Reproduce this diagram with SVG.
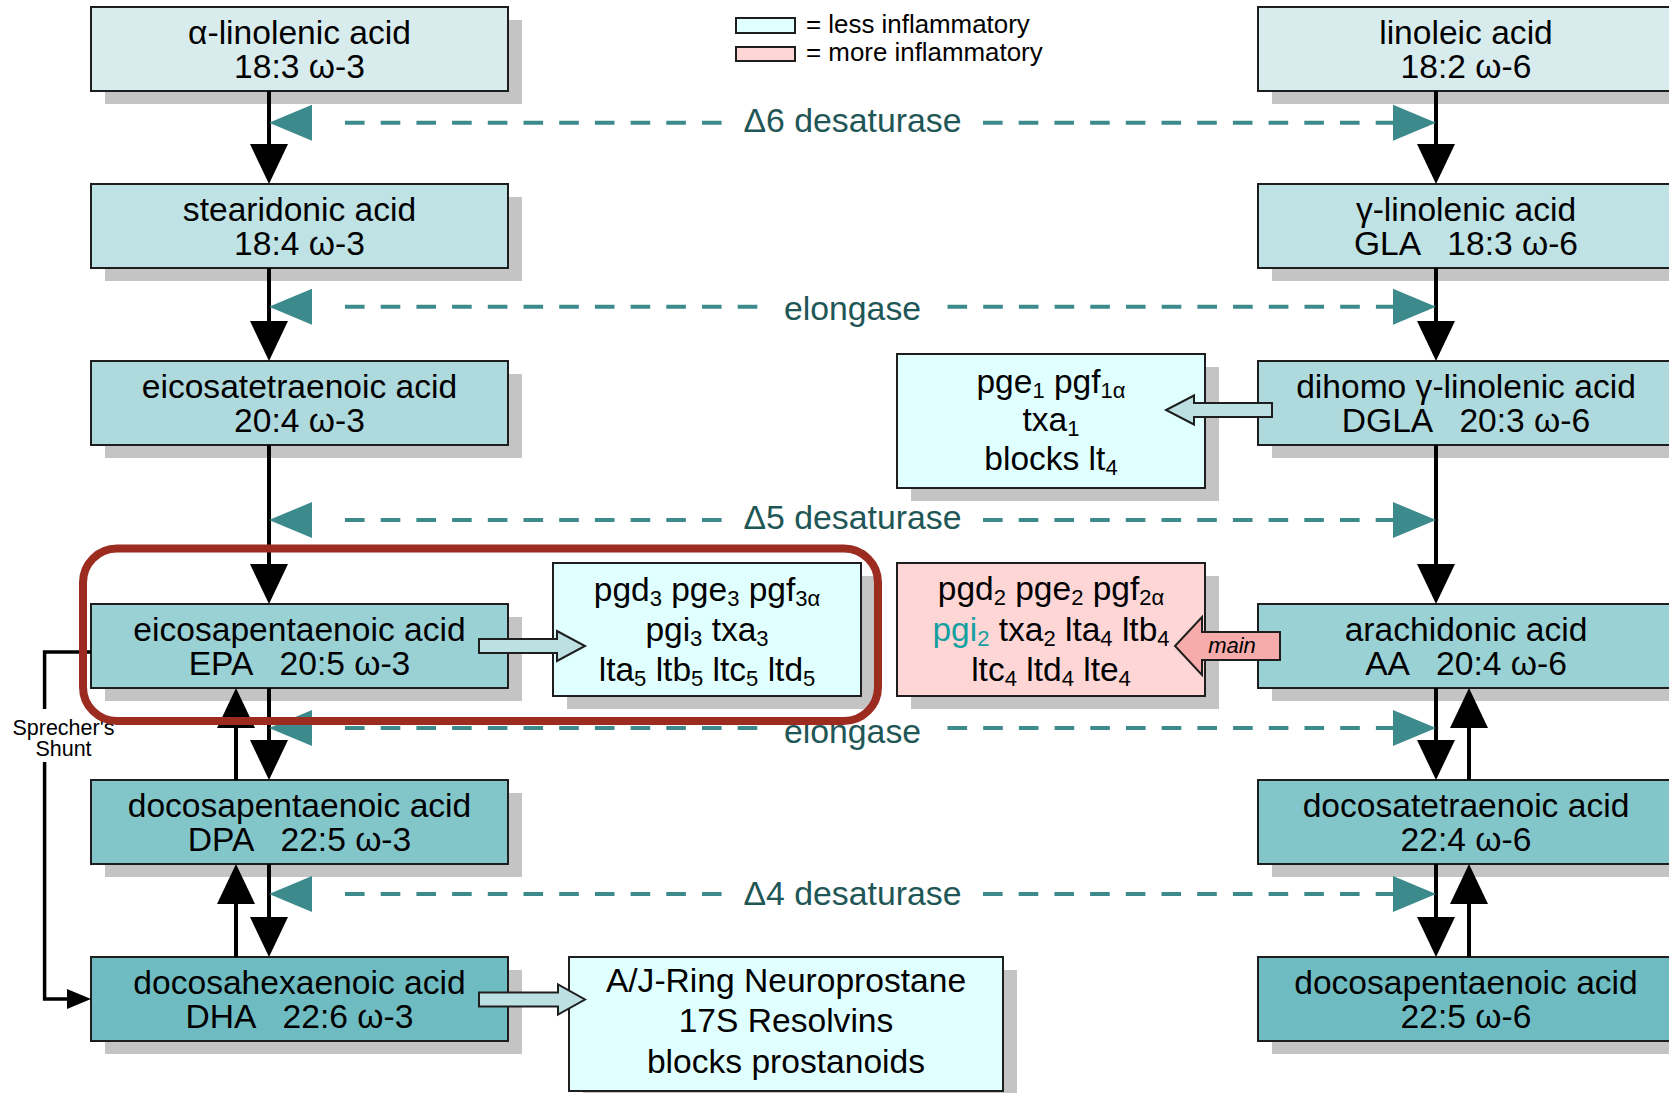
<svg xmlns="http://www.w3.org/2000/svg" width="1669" height="1093" viewBox="0 0 1669 1093">
<style>
text{font-family:"Liberation Sans",Arial,sans-serif;fill:#000}
.t{font-size:33.6px;text-anchor:middle;white-space:pre}
.p{font-size:33.5px;text-anchor:middle;white-space:pre}
.sb{font-size:22px}
.lab{font-size:33.8px;text-anchor:middle;fill:#1f5656}
.leg{font-size:25.9px}
.sh{fill:#c4c4c4}
.bx{stroke:#1e1e1e;stroke-width:2}
.r1{fill:#d9eced}.r2{fill:#bfe2e4}.r3{fill:#afdadd}.r4{fill:#99d1d5}.r5{fill:#83c6ca}.r6{fill:#6ebcc1}
.pl{fill:#e0ffff}.pr{fill:#ffd6d6}
.vl{stroke:#000;stroke-width:4;fill:none}
.dl{stroke:#3d8a8d;stroke-width:4;fill:none;stroke-dasharray:19.6 16.1}
.th{fill:#3d8a8d}
.bh{fill:#000}
.ha{fill:#bde0e3;stroke:#1e1e1e;stroke-width:2}
.ma{fill:#f8abab;stroke:#1e1e1e;stroke-width:2}
</style>
<defs>
<path id="hd" d="M0,0 L-19,-40 L19,-40 z"/>
<path id="hu" d="M0,0 L-19,40 L19,40 z"/>
<path id="tl" d="M0,0 L43,-18 L43,18 z"/>
<path id="tr" d="M0,0 L-43,-18 L-43,18 z"/>
</defs>

<g id="legend">
<rect class="bx pl" x="736" y="18" width="59" height="15"/>
<rect class="bx pr" x="736" y="47" width="59" height="14"/>
<text class="leg" x="806" y="33">= less inflammatory</text>
<text class="leg" x="806" y="61">= more inflammatory</text>
</g>

<g id="n-ala"><rect class="sh" x="105" y="20" width="417" height="84"/><rect class="bx r1" x="91" y="7" width="417" height="84"/>
<text class="t" x="299.5" y="44">α-linolenic acid</text><text class="t" x="299.5" y="78">18:3 ω-3</text></g>
<g id="n-sda"><rect class="sh" x="105" y="197" width="417" height="84"/><rect class="bx r2" x="91" y="184" width="417" height="84"/>
<text class="t" x="299.5" y="221">stearidonic acid</text><text class="t" x="299.5" y="255">18:4 ω-3</text></g>
<g id="n-eta"><rect class="sh" x="105" y="374" width="417" height="84"/><rect class="bx r3" x="91" y="361" width="417" height="84"/>
<text class="t" x="299.5" y="398">eicosatetraenoic acid</text><text class="t" x="299.5" y="432">20:4 ω-3</text></g>
<g id="n-epa"><rect class="sh" x="105" y="617" width="417" height="84"/><rect class="bx r4" x="91" y="604" width="417" height="84"/>
<text class="t" x="299.5" y="641">eicosapentaenoic acid</text><text class="t" x="299.5" y="675">EPA   20:5 ω-3</text></g>
<g id="n-dpa"><rect class="sh" x="105" y="793" width="417" height="84"/><rect class="bx r5" x="91" y="780" width="417" height="84"/>
<text class="t" x="299.5" y="817">docosapentaenoic acid</text><text class="t" x="299.5" y="851">DPA   22:5 ω-3</text></g>
<g id="n-dha"><rect class="sh" x="105" y="970" width="417" height="84"/><rect class="bx r6" x="91" y="957" width="417" height="84"/>
<text class="t" x="299.5" y="994">docosahexaenoic acid</text><text class="t" x="299.5" y="1028">DHA   22:6 ω-3</text></g>

<g id="n-la"><rect class="sh" x="1272" y="20" width="417" height="84"/><rect class="bx r1" x="1258" y="7" width="417" height="84"/>
<text class="t" x="1466" y="44">linoleic acid</text><text class="t" x="1466" y="78">18:2 ω-6</text></g>
<g id="n-gla"><rect class="sh" x="1272" y="197" width="417" height="84"/><rect class="bx r2" x="1258" y="184" width="417" height="84"/>
<text class="t" x="1466" y="221">γ-linolenic acid</text><text class="t" x="1466" y="255">GLA   18:3 ω-6</text></g>
<g id="n-dgla"><rect class="sh" x="1272" y="374" width="417" height="84"/><rect class="bx r3" x="1258" y="361" width="417" height="84"/>
<text class="t" x="1466" y="398">dihomo γ-linolenic acid</text><text class="t" x="1466" y="432">DGLA   20:3 ω-6</text></g>
<g id="n-aa"><rect class="sh" x="1272" y="617" width="417" height="84"/><rect class="bx r4" x="1258" y="604" width="417" height="84"/>
<text class="t" x="1466" y="641">arachidonic acid</text><text class="t" x="1466" y="675">AA   20:4 ω-6</text></g>
<g id="n-dta"><rect class="sh" x="1272" y="793" width="417" height="84"/><rect class="bx r5" x="1258" y="780" width="417" height="84"/>
<text class="t" x="1466" y="817">docosatetraenoic acid</text><text class="t" x="1466" y="851">22:4 ω-6</text></g>
<g id="n-dpa6"><rect class="sh" x="1272" y="970" width="417" height="84"/><rect class="bx r6" x="1258" y="957" width="417" height="84"/>
<text class="t" x="1466" y="994">docosapentaenoic acid</text><text class="t" x="1466" y="1028">22:5 ω-6</text></g>

<g id="p-dgla"><rect class="sh" x="911" y="367" width="308" height="134"/><rect class="bx pl" x="897" y="354" width="308" height="134"/>
<text class="p" x="1051" y="393">pge<tspan class="sb" dy="5">1</tspan><tspan dy="-5"> pgf</tspan><tspan class="sb" dy="5">1α</tspan></text>
<text class="p" x="1051" y="431">txa<tspan class="sb" dy="5">1</tspan></text>
<text class="p" x="1051" y="470">blocks lt<tspan class="sb" dy="5">4</tspan></text></g>

<g id="p-epa"><rect class="sh" x="567" y="576" width="308" height="133"/><rect class="bx pl" x="553" y="563" width="308" height="133"/>
<text class="p" x="707" y="601">pgd<tspan class="sb" dy="5">3</tspan><tspan dy="-5"> pge</tspan><tspan class="sb" dy="5">3</tspan><tspan dy="-5"> pgf</tspan><tspan class="sb" dy="5">3α</tspan></text>
<text class="p" x="707" y="641">pgi<tspan class="sb" dy="5">3</tspan><tspan dy="-5"> txa</tspan><tspan class="sb" dy="5">3</tspan></text>
<text class="p" x="707" y="681">lta<tspan class="sb" dy="5">5</tspan><tspan dy="-5"> ltb</tspan><tspan class="sb" dy="5">5</tspan><tspan dy="-5"> ltc</tspan><tspan class="sb" dy="5">5</tspan><tspan dy="-5"> ltd</tspan><tspan class="sb" dy="5">5</tspan></text></g>

<g id="p-aa"><rect class="sh" x="911" y="576" width="308" height="133"/><rect class="bx pr" x="897" y="563" width="308" height="133"/>
<text class="p" x="1051" y="600">pgd<tspan class="sb" dy="5">2</tspan><tspan dy="-5"> pge</tspan><tspan class="sb" dy="5">2</tspan><tspan dy="-5"> pgf</tspan><tspan class="sb" dy="5">2α</tspan></text>
<text class="p" x="1051" y="641"><tspan fill="#15a0a0">pgi</tspan><tspan class="sb" dy="5" fill="#15a0a0">2</tspan><tspan dy="-5"> txa</tspan><tspan class="sb" dy="5">2</tspan><tspan dy="-5"> lta</tspan><tspan class="sb" dy="5">4</tspan><tspan dy="-5"> ltb</tspan><tspan class="sb" dy="5">4</tspan></text>
<text class="p" x="1051" y="681">ltc<tspan class="sb" dy="5">4</tspan><tspan dy="-5"> ltd</tspan><tspan class="sb" dy="5">4</tspan><tspan dy="-5"> lte</tspan><tspan class="sb" dy="5">4</tspan></text></g>

<g id="p-dha"><rect class="sh" x="583" y="970" width="434" height="134"/><rect class="bx pl" x="569" y="957" width="434" height="134"/>
<text class="t" x="786" y="992">A/J-Ring Neuroprostane</text>
<text class="t" x="786" y="1032">17S Resolvins</text>
<text class="t" x="786" y="1073">blocks prostanoids</text></g>

<g id="connectors">
<path class="vl" d="M269,91V150M269,268V327M269,445V570M269,688V745M269,864V922"/>
<use href="#hd" class="bh" x="269" y="184"/><use href="#hd" class="bh" x="269" y="361"/><use href="#hd" class="bh" x="269" y="604"/><use href="#hd" class="bh" x="269" y="780"/><use href="#hd" class="bh" x="269" y="957"/>
<path class="vl" d="M236,780V720M236,957V897"/>
<use href="#hu" class="bh" x="236" y="688"/><use href="#hu" class="bh" x="236" y="864"/>
<path class="vl" d="M1436,91V150M1436,268V327M1436,445V570M1436,688V745M1436,864V922"/>
<use href="#hd" class="bh" x="1436" y="184"/><use href="#hd" class="bh" x="1436" y="361"/><use href="#hd" class="bh" x="1436" y="604"/><use href="#hd" class="bh" x="1436" y="780"/><use href="#hd" class="bh" x="1436" y="957"/>
<path class="vl" d="M1469,780V720M1469,957V897"/>
<use href="#hu" class="bh" x="1469" y="688"/><use href="#hu" class="bh" x="1469" y="864"/>

<path class="dl" d="M345,122.7H722M983,122.7H1395"/>
<path class="dl" d="M345,306.7H758M947.5,306.7H1395"/>
<path class="dl" d="M345,520H722M983,520H1395"/>
<path class="dl" d="M345,728H758M947.5,728H1395"/>
<path class="dl" d="M345,894H722M983,894H1395"/>
<use href="#tl" class="th" x="269" y="122.7"/><use href="#tr" class="th" x="1436" y="122.7"/>
<use href="#tl" class="th" x="269" y="306.7"/><use href="#tr" class="th" x="1436" y="306.7"/>
<use href="#tl" class="th" x="269" y="520"/><use href="#tr" class="th" x="1436" y="520"/>
<use href="#tl" class="th" x="269" y="728"/><use href="#tr" class="th" x="1436" y="728"/>
<use href="#tl" class="th" x="269" y="894"/><use href="#tr" class="th" x="1436" y="894"/>

<path d="M91,652H44.6V709M44.6,762V999H70" stroke="#000" stroke-width="3.5" fill="none"/>
<path d="M67,989L91,999L67,1009z" fill="#000"/>

<polygon class="ha" points="1272,403 1194,403 1194,395.5 1166,410 1194,424.5 1194,417 1272,417"/>
<polygon class="ha" points="479,639 557,639 557,631 585,646 557,661 557,653 479,653"/>
<polygon class="ha" points="479,992.5 558,992.5 558,984.5 585,999.5 558,1014.5 558,1006.5 479,1006.5"/>
<polygon class="ma" points="1280,632 1202,632 1202,617 1175,646 1202,675 1202,660 1280,660"/>
<text x="1232" y="653" font-size="22" font-style="italic" text-anchor="middle">main</text>
</g>

<g id="labels">
<text class="lab" x="852.5" y="132">Δ6 desaturase</text>
<text class="lab" x="852.5" y="320">elongase</text>
<text class="lab" x="852.5" y="529">Δ5 desaturase</text>
<text class="lab" x="852.5" y="743">elongase</text>
<text class="lab" x="852.5" y="905">Δ4 desaturase</text>
<text x="63.5" y="735" font-size="21.5" text-anchor="middle">Sprecher's</text>
<text x="63.5" y="756" font-size="21.5" text-anchor="middle">Shunt</text>
</g>

<rect id="highlight" x="83" y="548.5" width="795" height="172.5" rx="34" fill="none" stroke="#9c2b20" stroke-width="8"/>
</svg>
